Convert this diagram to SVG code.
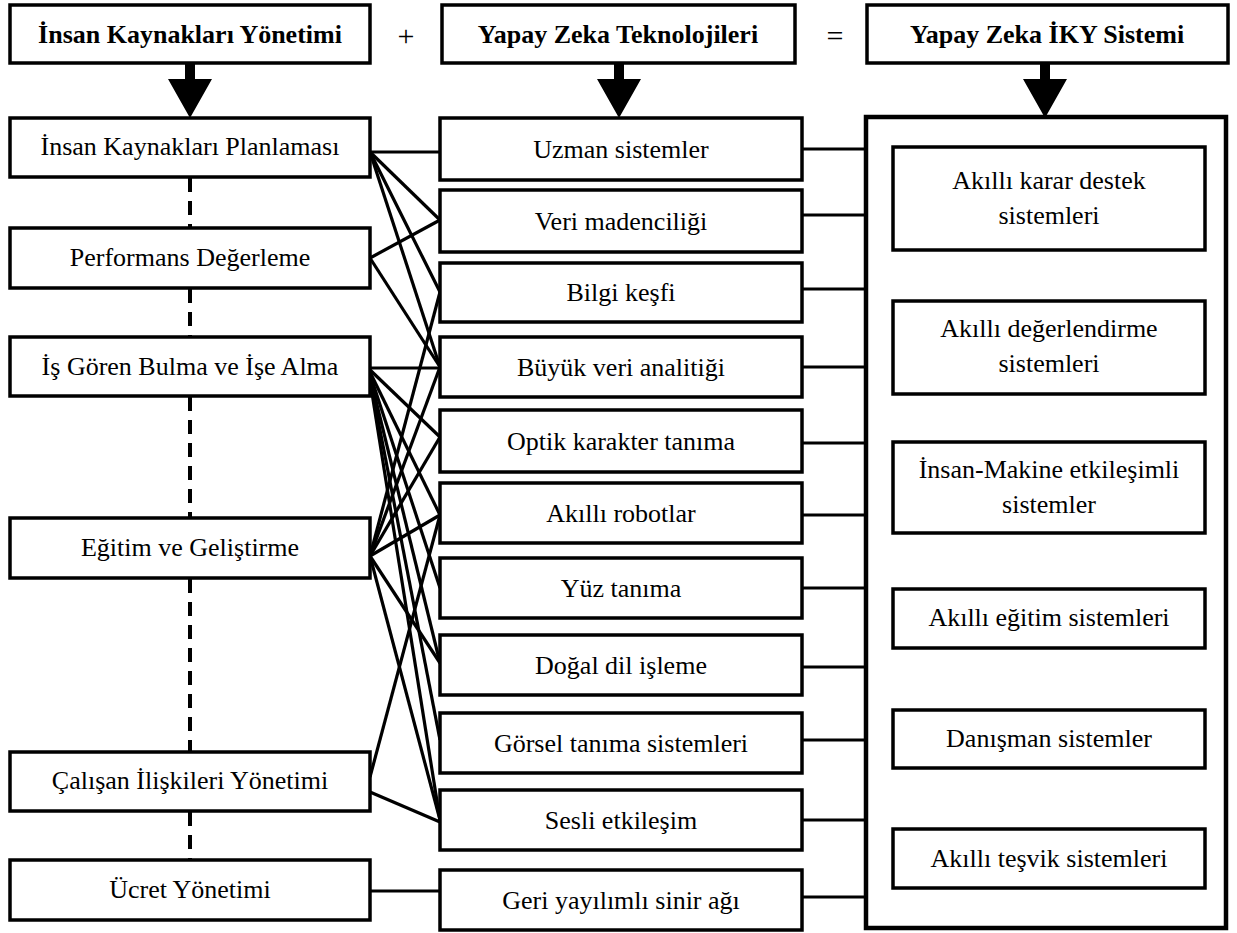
<svg xmlns="http://www.w3.org/2000/svg" width="1237" height="933" viewBox="0 0 1237 933" font-family="Liberation Serif, DejaVu Serif, serif" font-size="26">
<style>
.box{fill:#fff;stroke:#000;stroke-width:3.5}
.big{fill:#fff;stroke:#000;stroke-width:4.5}
text{fill:#000;text-anchor:middle}
.h{font-weight:bold}
.c{stroke:#000;stroke-width:3.2;fill:none}
.d{stroke:#000;stroke-width:4;fill:none;stroke-dasharray:14 9}
.arr{fill:#000}
</style>
<defs>
<path id="arrow" class="arr" d="M-5,0 H5 V16 H22 L0,55 L-22,16 H-5 Z"/>
</defs>

<g id="connectors">
<line class="d" x1="190" y1="178" x2="190" y2="228"/>
<line class="d" x1="190" y1="289" x2="190" y2="337"/>
<line class="d" x1="190" y1="397" x2="190" y2="518"/>
<line class="d" x1="190" y1="579" x2="190" y2="752"/>
<line class="d" x1="190" y1="812" x2="190" y2="860"/>
<line class="c" x1="370" y1="152" x2="440" y2="152"/>
<line class="c" x1="370" y1="152" x2="440" y2="220"/>
<line class="c" x1="370" y1="152" x2="440" y2="292"/>
<line class="c" x1="370" y1="152" x2="440" y2="367"/>
<line class="c" x1="370" y1="258" x2="440" y2="220"/>
<line class="c" x1="370" y1="258" x2="440" y2="367"/>
<line class="c" x1="368" y1="368" x2="440" y2="368"/>
<line class="c" x1="368" y1="368" x2="440" y2="437"/>
<line class="c" x1="368" y1="368" x2="440" y2="515"/>
<line class="c" x1="368" y1="368" x2="440" y2="588"/>
<line class="c" x1="368" y1="368" x2="440" y2="663"/>
<line class="c" x1="368" y1="368" x2="440" y2="740"/>
<line class="c" x1="368" y1="368" x2="440" y2="820"/>
<line class="c" x1="370" y1="556" x2="440" y2="292"/>
<line class="c" x1="370" y1="556" x2="440" y2="367"/>
<line class="c" x1="370" y1="556" x2="440" y2="437"/>
<line class="c" x1="370" y1="556" x2="440" y2="515"/>
<line class="c" x1="370" y1="556" x2="440" y2="663"/>
<line class="c" x1="370" y1="556" x2="440" y2="820"/>
<line class="c" x1="370" y1="777" x2="440" y2="515"/>
<line class="c" x1="370" y1="792" x2="440" y2="822"/>
<line class="c" x1="370" y1="891" x2="440" y2="891"/>
<line class="c" x1="802" y1="149" x2="866" y2="149"/>
<line class="c" x1="802" y1="215" x2="866" y2="215"/>
<line class="c" x1="802" y1="289" x2="866" y2="289"/>
<line class="c" x1="802" y1="367" x2="866" y2="367"/>
<line class="c" x1="802" y1="443" x2="866" y2="443"/>
<line class="c" x1="802" y1="515" x2="866" y2="515"/>
<line class="c" x1="802" y1="588" x2="866" y2="588"/>
<line class="c" x1="802" y1="667" x2="866" y2="667"/>
<line class="c" x1="802" y1="740" x2="866" y2="740"/>
<line class="c" x1="802" y1="820" x2="866" y2="820"/>
<line class="c" x1="802" y1="897" x2="866" y2="897"/>
<use href="#arrow" x="190" y="63"/>
<use href="#arrow" x="619" y="63"/>
<use href="#arrow" x="1045" y="63"/>
</g>

<g id="h-iky"><rect class="box" x="10" y="5" width="360" height="58"/><text class="h" x="190" y="43">İnsan Kaynakları Yönetimi</text></g>
<g id="plus"><text x="406" y="46" font-size="30">+</text></g>
<g id="h-yz"><rect class="box" x="442" y="5" width="353" height="58"/><text class="h" x="618" y="43">Yapay Zeka Teknolojileri</text></g>
<g id="equals"><text x="835" y="46" font-size="30">=</text></g>
<g id="h-sys"><rect class="box" x="867" y="5" width="361" height="58"/><text class="h" x="1047" y="43">Yapay Zeka İKY Sistemi</text></g>

<g id="l1"><rect class="box" x="10" y="118" width="360" height="59"/><text x="190" y="155">İnsan Kaynakları Planlaması</text></g>
<g id="l2"><rect class="box" x="10" y="228" width="360" height="60"/><text x="190" y="266">Performans Değerleme</text></g>
<g id="l3"><rect class="box" x="10" y="337" width="360" height="59"/><text x="190" y="375">İş Gören Bulma ve İşe Alma</text></g>
<g id="l4"><rect class="box" x="10" y="518" width="360" height="60"/><text x="190" y="556">Eğitim ve Geliştirme</text></g>
<g id="l5"><rect class="box" x="10" y="752" width="360" height="59"/><text x="190" y="789">Çalışan İlişkileri Yönetimi</text></g>
<g id="l6"><rect class="box" x="10" y="860" width="360" height="60"/><text x="190" y="898">Ücret Yönetimi</text></g>

<g id="m1"><rect class="box" x="440" y="118" width="362" height="62"/><text x="621" y="158">Uzman sistemler</text></g>
<g id="m2"><rect class="box" x="440" y="190" width="362" height="62"/><text x="621" y="230">Veri madenciliği</text></g>
<g id="m3"><rect class="box" x="440" y="263" width="362" height="59"/><text x="621" y="301">Bilgi keşfi</text></g>
<g id="m4"><rect class="box" x="440" y="337" width="362" height="60"/><text x="621" y="376">Büyük veri analitiği</text></g>
<g id="m5"><rect class="box" x="440" y="410" width="362" height="62"/><text x="621" y="450">Optik karakter tanıma</text></g>
<g id="m6"><rect class="box" x="440" y="483" width="362" height="60"/><text x="621" y="522">Akıllı robotlar</text></g>
<g id="m7"><rect class="box" x="440" y="558" width="362" height="60"/><text x="621" y="597">Yüz tanıma</text></g>
<g id="m8"><rect class="box" x="440" y="635" width="362" height="60"/><text x="621" y="674">Doğal dil işleme</text></g>
<g id="m9"><rect class="box" x="440" y="713" width="362" height="60"/><text x="621" y="752">Görsel tanıma sistemleri</text></g>
<g id="m10"><rect class="box" x="440" y="790" width="362" height="60"/><text x="621" y="829">Sesli etkileşim</text></g>
<g id="m11"><rect class="box" x="440" y="870" width="362" height="60"/><text x="621" y="909">Geri yayılımlı sinir ağı</text></g>

<g id="r-container"><rect class="big" x="866" y="117" width="360" height="811"/></g>
<g id="r1"><rect class="box" x="893" y="147" width="312" height="103"/><text x="1049" y="189">Akıllı karar destek</text><text x="1049" y="224">sistemleri</text></g>
<g id="r2"><rect class="box" x="893" y="301" width="312" height="93"/><text x="1049" y="337">Akıllı değerlendirme</text><text x="1049" y="372">sistemleri</text></g>
<g id="r3"><rect class="box" x="893" y="442" width="312" height="91"/><text x="1049" y="478">İnsan-Makine etkileşimli</text><text x="1049" y="513">sistemler</text></g>
<g id="r4"><rect class="box" x="893" y="589" width="312" height="59"/><text x="1049" y="626">Akıllı eğitim sistemleri</text></g>
<g id="r5"><rect class="box" x="893" y="710" width="312" height="58"/><text x="1049" y="747">Danışman sistemler</text></g>
<g id="r6"><rect class="box" x="893" y="829" width="312" height="59"/><text x="1049" y="867">Akıllı teşvik sistemleri</text></g>
</svg>
